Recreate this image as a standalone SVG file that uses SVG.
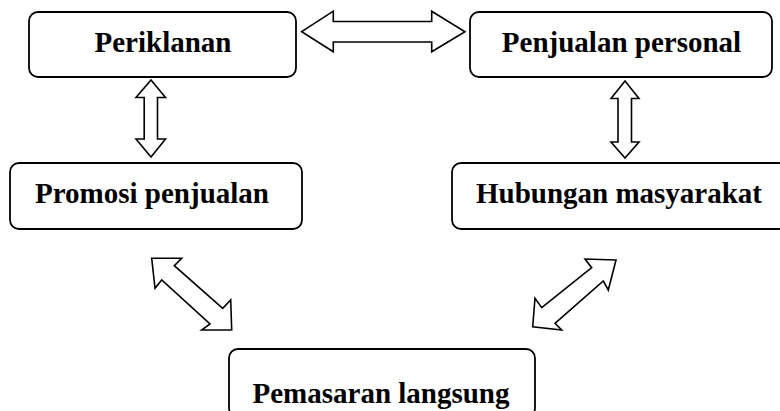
<svg xmlns="http://www.w3.org/2000/svg" width="780" height="411" viewBox="0 0 780 411">
<style>
.box{fill:#fff;stroke:#000;stroke-width:1.8}
.lbl{font-family:"Liberation Serif","Times New Roman",serif;font-weight:bold;font-size:29px;fill:#000;text-anchor:middle}
.arr{fill:#fff;stroke:#000;stroke-width:1.6;stroke-linejoin:miter}
</style>
<rect width="780" height="411" fill="#fff"/>
<g id="connectors">
<polygon class="arr" points="301.7,31.7 333.3,11.2 333.3,21.5 431.7,21.5 431.7,11.2 465,31.7 431.7,51.8 431.7,42 333.3,42 333.3,51.8"/>
<polygon class="arr" points="151,80 165.5,97.5 157.5,97.5 157.5,139 165.5,139 151,157 136,139 144.2,139 144.2,97.5 136,97.5"/>
<polygon class="arr" points="625,81 639,98.5 631.5,98.5 631.5,142 639,142 625,158 611,142 618,142 618,98.5 611,98.5"/>
<polygon class="arr" points="151.7,258.3 181.7,258.3 174.3,265.7 222.7,308.3 230.7,300 231.7,330 201.7,330 210,324 161.7,280 155,288.3"/>
<polygon class="arr" points="616,260 585,259 591.7,267.7 541.7,307.7 535,298.3 532.7,326.7 561.7,330 555,323.3 603.3,281 608.3,290"/>
</g>
<g id="periklanan">
<rect class="box" x="29" y="12" width="267" height="65" rx="9"/>
<text class="lbl" x="163" y="52">Periklanan</text>
</g>
<g id="penjualan-personal">
<rect class="box" x="470" y="12" width="302" height="65" rx="9"/>
<text class="lbl" x="621.5" y="52">Penjualan personal</text>
</g>
<g id="promosi-penjualan">
<rect class="box" x="10" y="163" width="292" height="66" rx="9"/>
<text class="lbl" x="152" y="203">Promosi penjualan</text>
</g>
<g id="hubungan-masyarakat">
<rect class="box" x="452" y="163" width="336" height="66" rx="9"/>
<text class="lbl" x="619" y="203">Hubungan masyarakat</text>
</g>
<g id="pemasaran-langsung">
<rect class="box" x="229" y="349" width="306" height="68" rx="9"/>
<text class="lbl" x="381" y="403">Pemasaran langsung</text>
</g>
</svg>
